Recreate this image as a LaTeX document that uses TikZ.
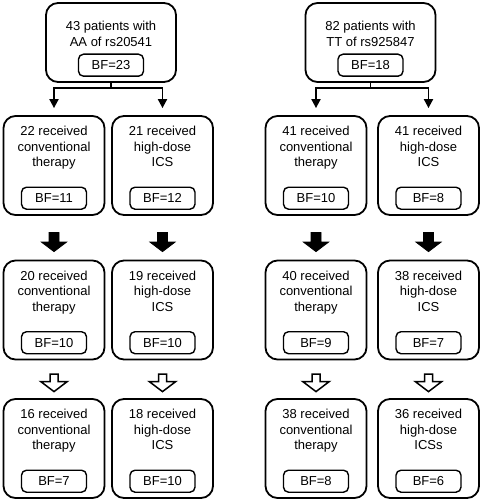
\documentclass[tikz,border=0pt]{standalone}
\usepackage{fontspec}
\setmainfont{Liberation Sans}
\usetikzlibrary{positioning,calc,arrows.meta}

\begin{document}
\begin{tikzpicture}[x=1pt, y=1pt, font=\fontsize{13}{15.5}\selectfont,
    grp/.style={draw, line width=1.8pt, rounded corners=12pt, minimum width=101pt, minimum height=99pt},
    rootbox/.style={grp, minimum width=130pt, minimum height=79pt},
    bf/.style={draw, line width=1.4pt, rounded corners=5pt, minimum width=65pt, minimum height=22pt, inner sep=0pt},
    lbl/.style={align=center, inner sep=0pt},
    branch/.style={line width=1.9pt, -{Triangle[width=9pt,length=9pt]}, shorten >=7pt},
    solidarrow/.style={draw=black, fill=black, line width=0.8pt},
    openarrow/.style={draw=black, fill=white, line width=1.5pt}]
  \useasboundingbox (0,0) rectangle (481,-500);

  % genotype groups
  \node[rootbox] (a0) at (111,-42.5) {};
  \node[lbl, below=19pt of a0.north] (ta0) {43 patients with\\AA of rs20541};
  \node[bf, above=6pt of a0.south] (fa0) {BF=23};
  \node[rootbox] (b0) at (370.5,-42.5) {};
  \node[lbl, below=19pt of b0.north] (tb0) {82 patients with\\TT of rs925847};
  \node[bf, above=6pt of b0.south] (fb0) {BF=18};

  % treatment arms
  \foreach \n/\x/\y/\t/\f in {
      a11/54/-165.5/{22 received\\conventional\\therapy}/11,
      a12/162.5/-165.5/{21 received\\high-dose\\ICS}/12,
      a21/54/-310/{20 received\\conventional\\therapy}/10,
      a22/162.5/-310/{19 received\\high-dose\\ICS}/10,
      a31/54/-448.5/{16 received\\conventional\\therapy}/7,
      a32/162.5/-448.5/{18 received\\high-dose\\ICS}/10,
      b11/316/-165.5/{41 received\\conventional\\therapy}/10,
      b12/428.5/-165.5/{41 received\\high-dose\\ICS}/8,
      b21/316/-310/{40 received\\conventional\\therapy}/9,
      b22/428.5/-310/{38 received\\high-dose\\ICS}/7,
      b31/316/-448.5/{38 received\\conventional\\therapy}/8,
      b32/428.5/-448.5/{36 received\\high-dose\\ICSs}/6}
  {
    \node[grp] (\n) at (\x,\y) {};
    \node[lbl, below=11pt of \n.north] (t\n) {\t};
    \node[bf, above=6pt of \n.south] (f\n) {BF=\f};
  }

  % split into arms
  \foreach \g in {a,b}
    \foreach \c in {1,2}
      \draw[branch] (\g0.south) -- ++(0,-5) -| (\g1\c.north);

  % follow-up arrows
  \foreach \g in {a,b}
    \foreach \c in {1,2} {
      \coordinate (m\g\c) at ($(\g1\c.south)!0.6!(\g2\c.north)$);
      \coordinate (n\g\c) at ($(\g2\c.south)!0.6!(\g3\c.north)$);
      \draw[solidarrow, shift={(m\g\c)}] (-5,9.5) -- (5,9.5) -- (5,0) -- (12.5,0)
        -- (0,-9.5) -- (-12.5,0) -- (-5,0) -- cycle;
      \draw[openarrow, shift={(n\g\c)}] (-4,8.8) -- (4,8.8) -- (4,1.5) -- (13.3,1.5)
        -- (0,-8.6) -- (-13.3,1.5) -- (-4,1.5) -- cycle;
    }
\end{tikzpicture}
\end{document}
